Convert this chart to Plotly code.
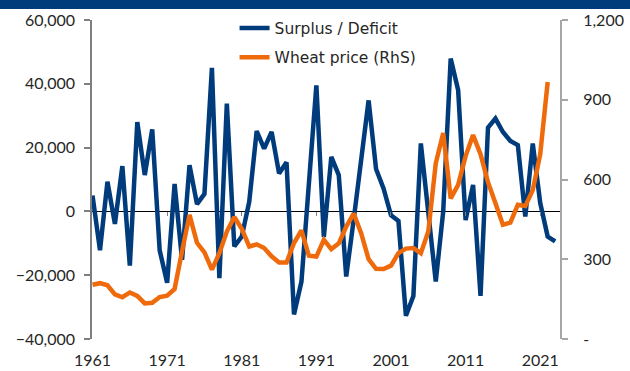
import plotly.graph_objects as go

# World wheat balance (kt) and wheat price, annual
years = list(range(1961, 2024))
surplus = [
    5000, -12200, 9300, -3900, 14200, -17000, 28000, 11400, 25700, -12200,   # 1961-1970
    -22400, 8600, -15200, 14500, 2300, 5500, 45000, -20900, 33800, -11000,   # 1971-1980
    -7900, 3000, 25200, 19700, 24900, 11900, 15400, -32300, -22000, 8000,    # 1981-1990
    39500, -8000, 17100, 11400, -20400, -2600, 16700, 34800, 13300, 7200,    # 1991-2000
    -1200, -3000, -32700, -26500, 21300, -2000, -22000, 0, 47900, 38000,     # 2001-2010
    -2700, 8300, -26500, 26300, 29100, 24900, 22100, 20800, -1600, 21300,    # 2011-2020
    2600, -7900, -9400,                                                      # 2021-2023
]

price_years = list(range(1961, 2023))
wheat_price = [
    204, 210, 202, 168, 157, 175, 162, 134, 136, 158,   # 1961-1970
    163, 188, 330, 467, 362, 326, 261, 323, 404, 459,   # 1971-1980
    415, 348, 356, 342, 311, 288, 288, 361, 409, 313,   # 1981-1990
    310, 373, 338, 360, 423, 472, 398, 300, 264, 263,   # 1991-2000
    276, 323, 340, 342, 323, 404, 661, 775, 529, 580,   # 2001-2010
    688, 767, 695, 590, 511, 430, 438, 505, 500, 560,   # 2011-2020
    695, 967,                                           # 2021-2022
]

x_ticks = [1961, 1971, 1981, 1991, 2001, 2011, 2021]
left_ticks = [-40000, -20000, 0, 20000, 40000, 60000]
right_ticks = [0, 300, 600, 900, 1200]
right_labels = ["-", "300", "600", "900", "1,200"]

NAVY = "#003B7C"
ORANGE = "#EE6A0B"
TEXT = "#262626"
FONT = "Century Gothic, Lato, sans-serif"
LEGEND_FONT = "Century Gothic, DejaVu Sans, sans-serif"
X_RANGE = [1960.93, 2023.65]

fig = go.Figure()
fig.add_trace(go.Scatter(
    x=years, y=surplus, name="Surplus / Deficit", mode="lines",
    line=dict(color=NAVY, width=4.5), legendgroup="a",
))
fig.add_trace(go.Scatter(
    x=price_years, y=wheat_price, name="Wheat price (RhS)", mode="lines",
    line=dict(color=ORANGE, width=4.5), yaxis="y2", legendgroup="b",
))
# carrier for the tick marks sitting on the zero line
fig.add_trace(go.Scatter(x=[], y=[], xaxis="x2", yaxis="y", showlegend=False, hoverinfo="skip"))

fig.update_layout(
    width=630, height=371,
    margin=dict(l=92, r=70, t=20, b=32, autoexpand=False),
    paper_bgcolor="white", plot_bgcolor="white",
    font=dict(family=FONT, size=16, color=TEXT),
    showlegend=True,
    legend=dict(
        x=0.3046, xref="paper", y=0.969, yref="container",
        xanchor="left", yanchor="top",
        bgcolor="rgba(0,0,0,0)", font=dict(family=LEGEND_FONT, size=15.5, color=TEXT),
        tracegroupgap=6,
    ),
    xaxis=dict(
        range=X_RANGE, tickvals=x_ticks, ticks="", showline=False,
        showgrid=False, zeroline=False, ticklabelstandoff=10, automargin=False,
        tickfont=dict(size=16, color=TEXT),
    ),
    xaxis2=dict(
        overlaying="x", anchor="free", position=0.4006, range=X_RANGE,
        tickvals=x_ticks[1:], ticks="outside", ticklen=4, tickcolor="#808080",
        showticklabels=False, showline=False, showgrid=False, zeroline=False,
        automargin=False,
    ),
    yaxis=dict(
        range=[-40000, 60000], tickvals=left_ticks, tickformat=",",
        showline=True, linecolor="#7F7F7F", linewidth=1.5,
        ticks="outside", ticklen=6, tickcolor="#7F7F7F", tickwidth=1.5,
        showgrid=False, zeroline=True, zerolinecolor="black", zerolinewidth=1,
        ticklabelstandoff=6, automargin=False, tickfont=dict(size=16, color=TEXT),
    ),
    yaxis2=dict(
        overlaying="y", side="right", anchor="x", range=[0, 1200],
        tickvals=right_ticks, ticktext=right_labels,
        showline=True, linecolor="#A6A6A6", linewidth=2,
        ticks="outside", ticklen=6, tickcolor="#A6A6A6", tickwidth=2,
        showgrid=False, zeroline=False, ticklabelstandoff=12, automargin=False,
        tickfont=dict(size=16, color=TEXT),
    ),
    shapes=[dict(
        type="rect", xref="paper", yref="paper",
        x0=-0.3, x1=1.3, y0=1.0344, y1=1.08,
        fillcolor=NAVY, line=dict(width=0), layer="above",
    )],
)

fig.write_html("out.html")
